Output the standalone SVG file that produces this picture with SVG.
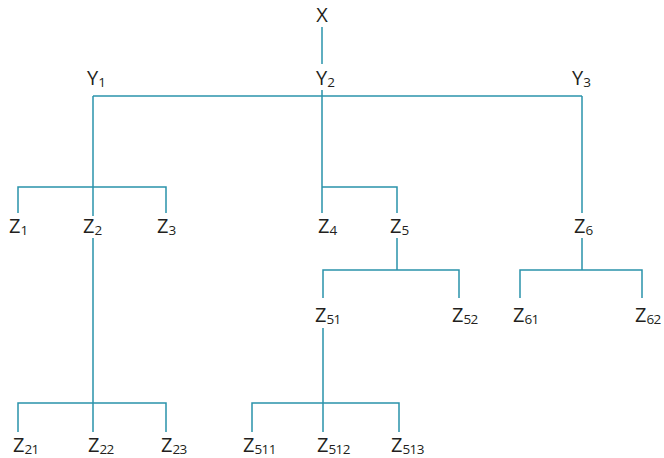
<svg xmlns="http://www.w3.org/2000/svg" width="664" height="458" viewBox="0 0 664 458">
<style>
.c{fill:none;stroke:#2a93ab;stroke-width:1.5}
text{font-family:"Open Sans","Noto Sans","Liberation Sans",sans-serif;font-size:20px;fill:#231f20}
.s{font-size:13.5px;letter-spacing:-0.6px}
</style>
<rect width="664" height="458" fill="#fff"/>
<g id="connectors" class="c">
<path d="M322 27V64"/>
<path d="M93 96H582"/>
<path d="M93 96V216"/>
<path d="M322 90V213M322 187H397V213"/>
<path d="M582 96V213"/>
<path d="M18 213V187H166V213"/>
<path d="M397 238V270M323 298V270H459V298"/>
<path d="M582 238V270M520 298V270H642V298"/>
<path d="M93 238V432M18 432V403H166V432"/>
<path d="M323 328V432M252 432V403H399V432"/>
</g>
<g id="X"><text x="322" y="22" text-anchor="middle">X</text></g>
<g id="Y1"><text x="87" y="85">Y<tspan class="s" dy="2">1</tspan></text></g>
<g id="Y2"><text x="316" y="85">Y<tspan class="s" dy="2">2</tspan></text></g>
<g id="Y3"><text x="572" y="85">Y<tspan class="s" dy="2">3</tspan></text></g>
<g id="Z1"><text x="9" y="233">Z<tspan class="s" dy="2">1</tspan></text></g>
<g id="Z2"><text x="83" y="233">Z<tspan class="s" dy="2">2</tspan></text></g>
<g id="Z3"><text x="157" y="233">Z<tspan class="s" dy="2">3</tspan></text></g>
<g id="Z4"><text x="318" y="233">Z<tspan class="s" dy="2">4</tspan></text></g>
<g id="Z5"><text x="390" y="233">Z<tspan class="s" dy="2">5</tspan></text></g>
<g id="Z6"><text x="574" y="233">Z<tspan class="s" dy="2">6</tspan></text></g>
<g id="Z51"><text x="315" y="322">Z<tspan class="s" dy="2">51</tspan></text></g>
<g id="Z52"><text x="452" y="322">Z<tspan class="s" dy="2">52</tspan></text></g>
<g id="Z61"><text x="513" y="322">Z<tspan class="s" dy="2">61</tspan></text></g>
<g id="Z62"><text x="635" y="322">Z<tspan class="s" dy="2">62</tspan></text></g>
<g id="Z21"><text x="13" y="452">Z<tspan class="s" dy="2">21</tspan></text></g>
<g id="Z22"><text x="88" y="452">Z<tspan class="s" dy="2">22</tspan></text></g>
<g id="Z23"><text x="161" y="452">Z<tspan class="s" dy="2">23</tspan></text></g>
<g id="Z511"><text x="243" y="452">Z<tspan class="s" dy="2">511</tspan></text></g>
<g id="Z512"><text x="317" y="452">Z<tspan class="s" dy="2">512</tspan></text></g>
<g id="Z513"><text x="391" y="452">Z<tspan class="s" dy="2">513</tspan></text></g>
</svg>
